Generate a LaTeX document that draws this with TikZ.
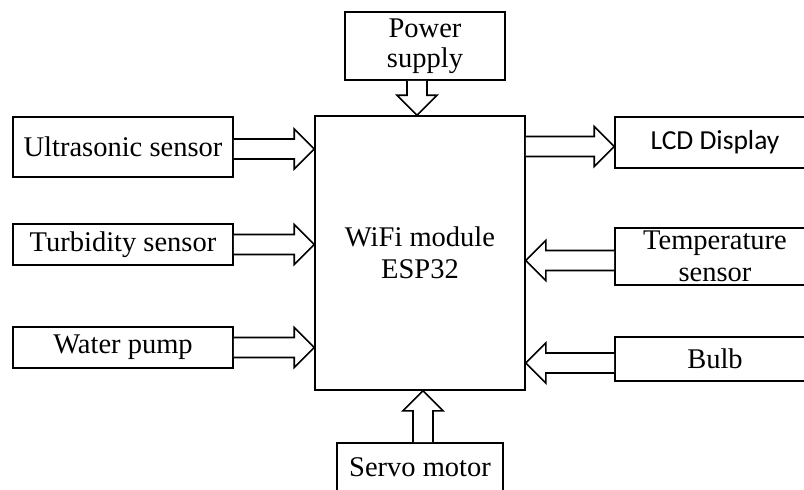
\documentclass[tikz,border=0pt]{standalone}
\usepackage{fontspec}
\setmainfont{Liberation Serif}
\newfontfamily\lcdfont{Carlito}
\usetikzlibrary{calc}
\tikzset{
  box/.style={draw, line width=1.6pt, fill=white, inner sep=0pt, align=center,
    font=\fontsize{28.5}{32}\selectfont},
  blockarrow/.style={draw, line width=1.6pt, fill=white, line join=miter},
}
% #1 start, #2 tip
\newcommand{\blockarr}[2]{%
  \coordinate (bA) at (#1);
  \coordinate (bB) at (#2);
  \coordinate (bC) at ($(bB)!20pt!(bA)$);
  \draw[blockarrow] ($(bA)!10pt!90:(bB)$) -- ($(bC)!10pt!-90:(bA)$) -- ($(bC)!20pt!-90:(bA)$)
    -- (bB) -- ($(bC)!20pt!90:(bA)$) -- ($(bC)!10pt!90:(bA)$) -- ($(bA)!10pt!-90:(bB)$);
}
\begin{document}
\begin{tikzpicture}[x=1pt,y=-1pt]
\useasboundingbox (0,0) rectangle (804,490);
\clip (0,0) rectangle (804,490);
\fill[white] (0,0) rectangle (804,490);

\node[box, minimum width=210pt, minimum height=274pt] (esp) at (420,253) {WiFi module\\ESP32};
\node[box, minimum width=160pt, minimum height=68pt, font=\fontsize{28.5}{30}\selectfont] (ps) at (425,46) {Power\\supply};
\node[box, minimum width=220pt, minimum height=60pt] (us) at (123,147) {Ultrasonic sensor};
\node[box, minimum width=220pt, minimum height=41pt] (tb) at (123,244.5) {Turbidity sensor};
\node[box, minimum width=220pt, minimum height=41pt] (wp) at (123,347.5) {Water pump};
\node[box, minimum width=200pt, minimum height=51pt, font=\lcdfont\fontsize{27.5}{32}\selectfont] (lcd) at (715,142.5) {LCD Display};
\node[box, minimum width=200pt, minimum height=57pt] (ts) at (715,256.5) {Temperature\\sensor};
\node[box, minimum width=200pt, minimum height=44pt] (bulb) at (715,359) {Bulb};
\node[box, minimum width=166pt, minimum height=48pt] (sv) at (420,467) {Servo motor};

\blockarr{$(us.east)+(0,2)$}{$(us.east -| esp.west)+(0,2)$}
\blockarr{tb.east}{tb.east -| esp.west}
\blockarr{wp.east}{wp.east -| esp.west}
\blockarr{$(esp.east |- lcd.west)+(0,4)$}{$(lcd.west)+(0,4)$}
\blockarr{$(ts.west)+(0,4)$}{$(esp.east |- ts.west)+(0,4)$}
\blockarr{$(bulb.west)+(0,4)$}{$(esp.east |- bulb.west)+(0,4)$}
\blockarr{$(ps.south)+(-8,0)$}{$(ps.south |- esp.north)+(-8,0)$}
\blockarr{$(sv.north)+(3,0)$}{$(sv.north |- esp.south)+(3,0)$}
\end{tikzpicture}
\end{document}
